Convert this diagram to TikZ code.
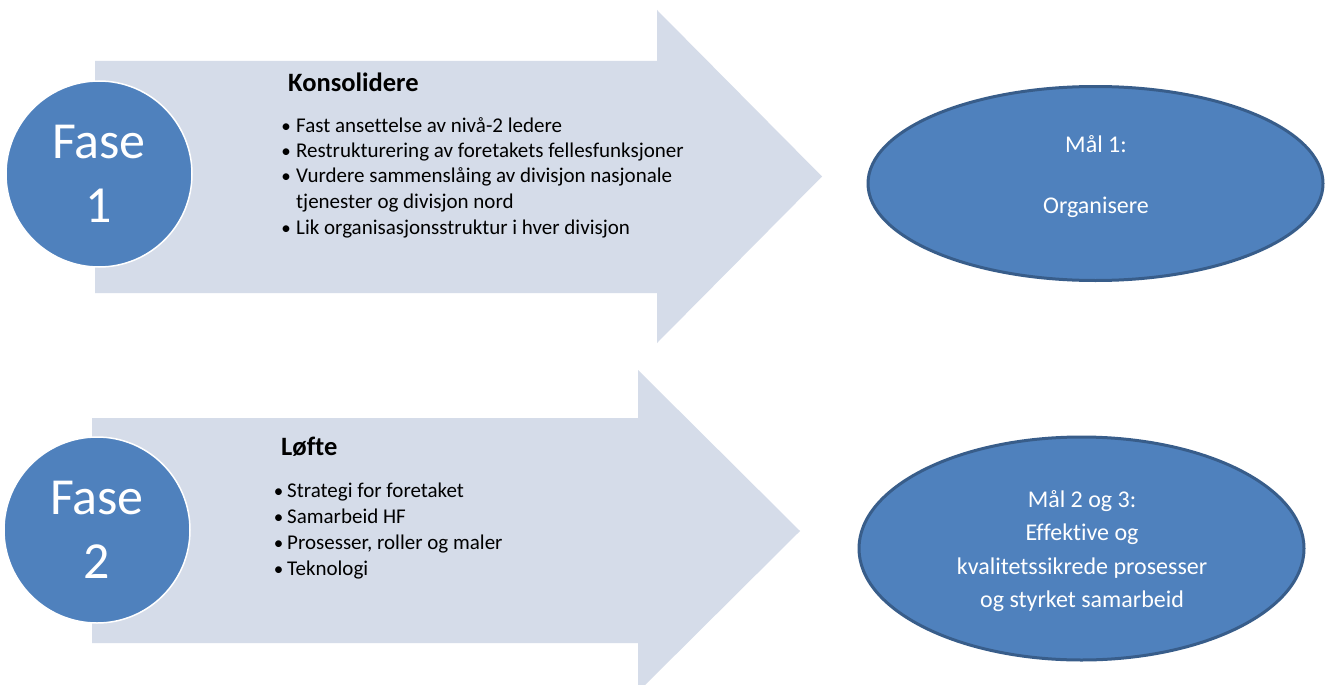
\documentclass[tikz,border=0pt]{standalone}
\usepackage{fontspec}
\setmainfont{Carlito}[Ligatures={NoCommon}]
\usetikzlibrary{shapes.geometric}
\definecolor{arrowfill}{RGB}{213,220,233}
\definecolor{accent}{RGB}{79,129,189}
\definecolor{accentdark}{RGB}{56,93,138}
\tikzset{
  bigarrow/.style={fill=arrowfill, draw=none},
  phase/.style={circle, fill=accent, draw=white, line width=1.5pt, minimum size=186pt, inner sep=0pt,
    text=white, align=center, font=\fontsize{52}{64}\selectfont},
  goal/.style={ellipse, fill=accent, draw=accentdark, line width=3pt, inner sep=0pt},
  goaltext/.style={anchor=base, inner sep=0pt, text=white, font=\fontsize{24}{28}\selectfont},
  headtext/.style={anchor=base west, inner sep=0pt, font=\fontsize{26.5}{30}\selectfont\bfseries},
  itemtext/.style={anchor=base west, inner sep=0pt, font=\fontsize{21}{24}\selectfont},
  bulletmark/.style={anchor=base, inner sep=0pt, font=\fontsize{19}{24}\selectfont}
}
\begin{document}
\begin{tikzpicture}[x=1pt,y=-1pt]
\useasboundingbox (0,0) rectangle (1330,685);
\clip (0,0) rectangle (1330,685);
\fill[white] (0,0) rectangle (1330,685);

% Arrow 1
\path[bigarrow] (95,61) -- (657,61) -- (657,10) -- (822,176.5) -- (657,343) -- (657,293) -- (95,293) -- cycle;
% Arrow 2
\path[bigarrow] (92,418) -- (638,418) -- (638,370) -- (800,531) -- (638,692) -- (638,643) -- (92,643) -- cycle;

% Phase circles
\node[phase] (fase1) at (99,174) {Fase\\1};
\node[phase] (fase2) at (97,530) {Fase\\2};

% Text arrow 1
\node[headtext] (h1) at (288,92) {Konsolidere};
\foreach \y/\t [count=\i] in {132/Fast ansettelse av nivå-2 ledere,
                   157/Restrukturering av foretakets fellesfunksjoner,
                   182/Vurdere sammenslåing av divisjon nasjonale,
                   234/Lik organisasjonsstruktur i hver divisjon}{
  \node[bulletmark] (b1\i) at (286,\y) {•};
  \node[itemtext] (t1\i) at (296,\y) {\t};
}
\node[itemtext] (t1c) at (296,208) {tjenester og divisjon nord};

% Text arrow 2
\node[headtext] (h2) at (281,455) {Løfte};
\foreach \y/\t [count=\i] in {497/Strategi for foretaket,
                   523/Samarbeid HF,
                   549/{Prosesser, roller og maler},
                   575/Teknologi}{
  \node[bulletmark] (b2\i) at (278.5,\y) {•};
  \node[itemtext] (t2\i) at (287,\y) {\t};
}

% Goal ellipses
\node[goal, minimum width=455pt, minimum height=194pt] (goal1) at (1095.5,183.5) {};
\node[goaltext] (g1a) at (1096,152) {Mål 1:};
\node[goaltext] (g1b) at (1096,213) {Organisere};

\node[goal, minimum width=445pt, minimum height=223pt] (goal2) at (1081.5,548.5) {};
\node[goaltext] (g2a) at (1082,507) {Mål 2 og 3:};
\node[goaltext] (g2b) at (1082,540) {Effektive og};
\node[goaltext] (g2c) at (1082,574) {kvalitetssikrede prosesser};
\node[goaltext] (g2d) at (1082,607) {og styrket samarbeid};
\end{tikzpicture}
\end{document}
